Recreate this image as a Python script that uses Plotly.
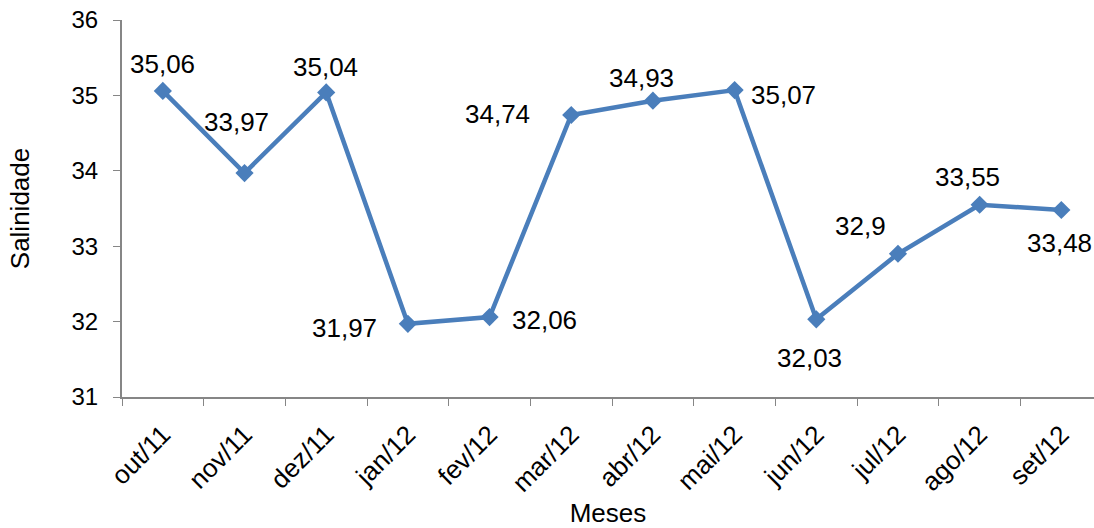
import plotly.graph_objects as go

# Monthly salinity series
meses = ["out/11", "nov/11", "dez/11", "jan/12", "fev/12", "mar/12",
         "abr/12", "mai/12", "jun/12", "jul/12", "ago/12", "set/12"]
salinidade = [35.06, 33.97, 35.04, 31.97, 32.06, 34.74,
              34.93, 35.07, 32.03, 32.9, 33.55, 33.48]
y_ticks = [31, 32, 33, 34, 35, 36]

# Pixel offsets (dx, dy) for each data label relative to its marker
label_offsets = [(0, 27), (-8, 51), (-1, 25), (-63, -4), (55, -3), (-74, 1),
                 (-11, 23), (49, -5), (-7, -39), (-37, 28), (-12, 28), (-2, -33)]

FONT = "Liberation Sans, Arial, sans-serif"
TICK_FS = 24
XTICK_FS = 26
LABEL_FS = 26
LINE_BLUE = "#4A7EBB"
AXIS_GREY = "#868686"

fig = go.Figure()
fig.add_trace(go.Scatter(
    x=meses, y=salinidade, mode="lines+markers",
    line=dict(color=LINE_BLUE, width=4.5),
    marker=dict(symbol="diamond", size=14, color=LINE_BLUE),
    showlegend=False, hoverinfo="skip",
))

for m, v, (dx, dy) in zip(meses, salinidade, label_offsets):
    fig.add_annotation(
        x=m, y=v, xref="x", yref="y", showarrow=False,
        text=f"{v:g}".replace(".", ","), xshift=dx, yshift=dy,
        font=dict(family=FONT, size=LABEL_FS, color="#000000"),
    )

fig.update_layout(
    width=1094, height=528,
    margin=dict(l=122, r=0, t=20, b=131),
    paper_bgcolor="white", plot_bgcolor="white",
    font=dict(family=FONT, size=TICK_FS, color="#000000"),
    xaxis=dict(
        type="category", range=[-0.5, 11.4],
        tickson="boundaries", ticks="outside", ticklen=7, tickcolor=AXIS_GREY,
        showline=True, linecolor=AXIS_GREY, linewidth=2,
        showgrid=False, zeroline=False, tickangle=-45, ticklabelstandoff=10,
        tickfont=dict(family=FONT, size=XTICK_FS),
        title=dict(text="Meses", font=dict(family=FONT, size=LABEL_FS), standoff=12),
    ),
    yaxis=dict(
        range=[31, 36], tickvals=y_ticks,
        ticks="outside", ticklen=7, tickcolor=AXIS_GREY,
        showline=True, linecolor=AXIS_GREY, linewidth=2,
        showgrid=False, zeroline=False, ticklabelstandoff=10,
        tickfont=dict(family=FONT, size=TICK_FS),
        title=dict(text="Salinidade", font=dict(family=FONT, size=LABEL_FS), standoff=34),
    ),
)

fig.write_html("out.html")
